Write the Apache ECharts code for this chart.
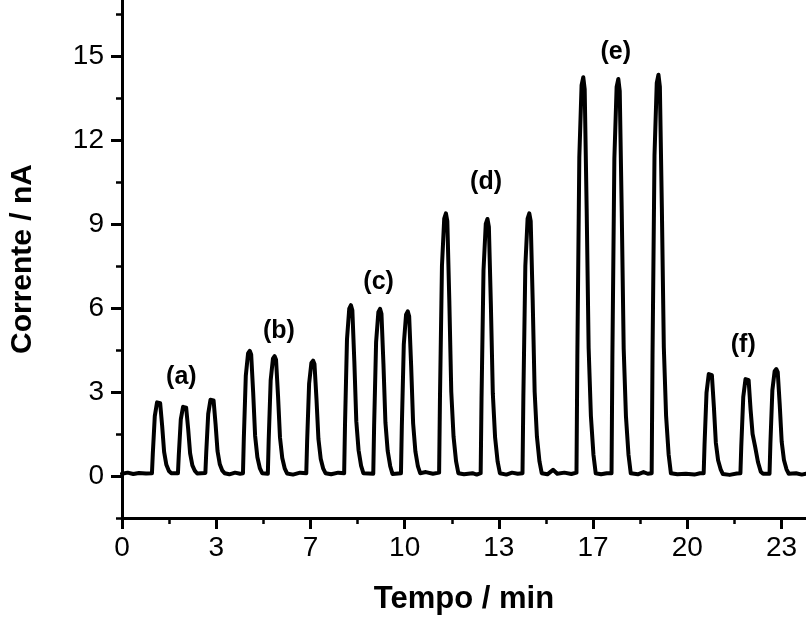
<!DOCTYPE html>
<html>
<head>
<meta charset="utf-8">
<script src="https://cdn.jsdelivr.net/npm/echarts@6/dist/echarts.min.js"></script>
<style>
html,body{margin:0;padding:0;background:#fff;}
#chart{width:806px;height:620px;}
</style>
</head>
<body>
<div id="chart"></div>
<script>
// Time (min) of each sample of the amperometric trace
const tempo = [
  0.00,0.20,0.40,0.60,0.85,
  1.06,1.09,1.16,1.24,1.30,1.35,1.42,1.49,1.57,1.66,1.74,
  1.98,2.01,2.08,2.16,2.22,2.27,2.34,2.41,2.49,2.58,2.66,
  2.95,2.98,3.05,3.13,3.19,3.24,3.31,3.38,3.46,3.55,3.63,
  3.80,4.00,4.18,
  4.28,4.31,4.38,4.46,4.52,4.57,4.64,4.71,4.79,4.88,4.96,
  5.16,5.19,5.26,5.34,5.40,5.45,5.52,5.59,5.67,5.76,5.84,
  6.05,6.30,
  6.52,6.55,6.62,6.70,6.76,6.81,6.88,6.95,7.03,7.12,7.20,
  7.40,7.65,
  7.86,7.89,7.96,8.04,8.10,8.15,8.22,8.29,8.37,8.46,8.54,
  8.89,8.92,8.99,9.07,9.13,9.18,9.25,9.32,9.40,9.49,9.57,
  9.87,9.90,9.97,10.05,10.11,10.16,10.23,10.30,10.38,10.47,10.55,
  10.75,11.00,
  11.22,11.25,11.32,11.40,11.46,11.51,11.58,11.65,11.73,11.82,11.90,
  12.10,12.40,12.55,
  12.69,12.72,12.79,12.87,12.93,12.98,13.05,13.12,13.20,13.29,13.37,
  13.60,13.80,14.00,
  14.17,14.20,14.27,14.35,14.41,14.46,14.53,14.60,14.68,14.77,14.85,
  15.05,15.25,15.40,15.65,15.90,
  16.08,16.11,16.18,16.26,16.32,16.37,16.44,16.51,16.59,16.68,16.76,
  16.95,17.15,
  17.32,17.35,17.42,17.50,17.56,17.61,17.68,17.75,17.83,17.92,18.00,
  18.25,18.45,18.60,
  18.74,18.77,18.84,18.92,18.98,19.03,19.10,19.17,19.25,19.34,19.42,
  19.65,19.95,20.25,20.45,
  20.58,20.61,20.68,20.76,20.82,20.87,20.94,21.01,21.09,21.18,21.26,
  21.50,21.75,
  21.88,21.91,21.98,22.06,22.12,22.17,22.24,22.31,22.40,22.50,22.60,22.68,
  22.91,22.94,23.01,23.09,23.15,23.20,23.27,23.34,23.42,23.51,23.59,
  23.85,24.05,24.20
];
// Current (nA) at each sample
const corrente = [
  0.08,0.12,0.07,0.11,0.09,
  0.10,0.80,2.14,2.63,2.68,2.60,1.80,0.86,0.40,0.18,0.10,
  0.10,0.76,2.02,2.47,2.52,2.44,1.69,0.81,0.38,0.18,0.09,
  0.11,0.83,2.22,2.72,2.78,2.70,1.86,0.89,0.42,0.19,0.10,
  0.06,0.12,0.08,
  0.10,1.34,3.58,4.38,4.47,4.34,3.00,1.43,0.67,0.27,0.10,
  0.08,1.28,3.42,4.19,4.28,4.15,2.87,1.37,0.64,0.26,0.09,
  0.05,0.12,
  0.10,1.24,3.30,4.04,4.12,4.00,2.76,1.32,0.62,0.26,0.10,
  0.06,0.12,
  0.10,1.83,4.88,5.98,6.10,5.92,4.09,1.95,0.92,0.36,0.10,
  0.08,1.79,4.78,5.85,5.97,5.79,4.00,1.91,0.90,0.35,0.07,
  0.10,1.76,4.70,5.76,5.88,5.70,3.94,1.88,0.88,0.34,0.10,
  0.14,0.08,
  0.12,2.81,7.50,9.19,9.38,9.10,6.28,3.00,1.41,0.52,0.10,
  0.06,0.10,0.05,
  0.10,2.75,7.34,9.00,9.18,8.90,6.15,2.94,1.38,0.51,0.10,
  0.05,0.12,0.08,
  0.10,2.81,7.50,9.19,9.38,9.10,6.28,3.00,1.41,0.52,0.10,
  0.06,0.22,0.08,0.12,0.07,
  0.12,4.27,11.39,13.96,14.24,13.81,9.54,4.56,2.14,0.76,0.10,
  0.06,0.10,
  0.10,4.25,11.34,13.90,14.18,13.75,9.50,4.54,2.13,0.76,0.10,
  0.06,0.14,0.08,
  0.10,4.30,11.46,14.04,14.33,13.90,9.60,4.59,2.15,0.77,0.10,
  0.06,0.08,0.05,0.10,
  0.10,1.11,2.97,3.64,3.71,3.60,2.49,1.19,0.56,0.24,0.07,
  0.04,0.09,
  0.10,1.06,2.82,3.46,3.53,3.42,2.36,1.50,1.05,0.50,0.15,0.08,
  0.08,1.15,3.06,3.74,3.82,3.71,2.56,1.22,0.57,0.24,0.08,
  0.10,0.05,0.08
];
// Peak group annotations
const rotuloTexto = ['(a)','(b)','(c)','(d)','(e)','(f)'];
const rotuloX = [2.10, 5.55, 9.08, 12.88, 17.47, 21.98];
const rotuloY = [3.53, 5.19, 6.94, 10.48, 15.14, 4.66];
// Axis ticks
const xTickValues = [0, 3.3333, 6.6667, 10, 13.3333, 16.6667, 20, 23.3333];
const xTickLabels = ['0','3','7','10','13','17','20','23'];
const xMinorValues = [1.6667, 5, 8.3333, 11.6667, 15, 18.3333, 21.6667];
const yTickValues = [0, 3, 6, 9, 12, 15];
const yMinorValues = [-1.5, 1.5, 4.5, 7.5, 10.5, 13.5, 16.5];

const FONT = 'Liberation Sans';
const chart = echarts.init(document.getElementById('chart'), null, {renderer: 'canvas'});

const seriesData = tempo.map((t, i) => [t, corrente[i]]);
const rotulos = rotuloTexto.map((s, i) => ({name: s, value: [rotuloX[i], rotuloY[i]]}));

chart.setOption({
  animation: false,
  backgroundColor: '#fff',
  grid: {left: 121, right: 0, top: 0, bottom: 98, containLabel: false},
  xAxis: [{
    type: 'value', min: 0, max: 24.2,
    name: 'Tempo / min', nameLocation: 'middle', nameGap: 66,
    nameTextStyle: {fontFamily: FONT, fontSize: 31, fontWeight: 'bold', color: '#000'},
    axisLine: {show: true, onZero: false, lineStyle: {color: '#000', width: 3}},
    axisTick: {show: true, inside: false, length: 11, lineStyle: {color: '#000', width: 3}, customValues: xTickValues},
    axisLabel: {show: true, margin: 16, fontFamily: FONT, fontSize: 28, color: '#000',
      customValues: xTickValues,
      formatter: v => { const k = xTickValues.findIndex(x => Math.abs(x - v) < 1e-3); return k >= 0 ? xTickLabels[k] : ''; }},
    splitLine: {show: false}
  }, {
    type: 'value', min: 0, max: 24.2, position: 'bottom', gridIndex: 0,
    axisLine: {show: false, onZero: false},
    axisTick: {show: true, length: 6, lineStyle: {color: '#000', width: 2.5}, customValues: xMinorValues},
    axisLabel: {show: false},
    splitLine: {show: false}
  }],
  yAxis: [{
    type: 'value', min: -1.5, max: 17,
    name: 'Corrente / nA', nameLocation: 'middle', nameGap: 84, nameRotate: 90,
    nameTextStyle: {fontFamily: FONT, fontSize: 30, fontWeight: 'bold', color: '#000'},
    axisLine: {show: true, onZero: false, lineStyle: {color: '#000', width: 3}},
    axisTick: {show: true, length: 11, lineStyle: {color: '#000', width: 3}, customValues: yTickValues},
    axisLabel: {show: true, margin: 18, fontFamily: FONT, fontSize: 28, color: '#000', customValues: yTickValues},
    splitLine: {show: false}
  }, {
    type: 'value', min: -1.5, max: 17, position: 'left', gridIndex: 0,
    axisLine: {show: false, onZero: false},
    axisTick: {show: true, length: 6, lineStyle: {color: '#000', width: 2.5}, customValues: yMinorValues},
    axisLabel: {show: false},
    splitLine: {show: false}
  }],
  series: [{
    type: 'line', xAxisIndex: 0, yAxisIndex: 0,
    data: seriesData, showSymbol: false, symbol: 'none', silent: true,
    lineStyle: {color: '#000', width: 4, join: 'round', cap: 'round'},
    z: 3
  }, {
    type: 'scatter', xAxisIndex: 0, yAxisIndex: 0,
    data: rotulos, symbolSize: 0, silent: true,
    itemStyle: {color: '#000', opacity: 1},
    label: {show: true, position: 'inside', formatter: p => p.name,
      fontFamily: FONT, fontSize: 25, fontWeight: 'bold', color: '#000',
      textBorderWidth: 0, textBorderColor: 'transparent'},
    z: 4
  }]
});
</script>
</body>
</html>
